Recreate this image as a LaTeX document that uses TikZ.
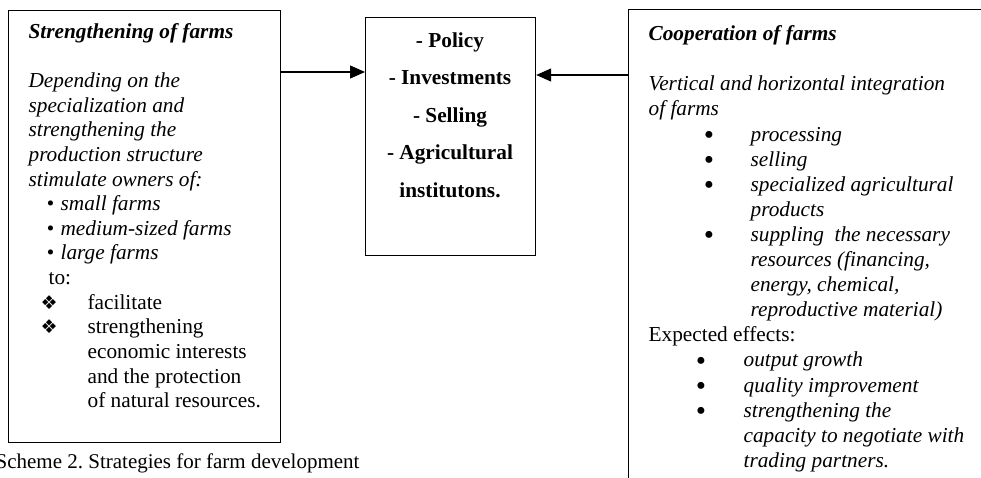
\documentclass[tikz,border=0pt]{standalone}
\usepackage{fontspec}
\setmainfont{Liberation Serif}
\newfontfamily\dingfont{DejaVu Sans}
\usetikzlibrary{positioning,arrows.meta}
\frenchspacing
\newcommand{\smalldot}{\makebox[14pt][l]{\textbullet}}
\newcommand{\bigdot}{\smash{\raisebox{-3.5pt}{\fontsize{29}{20}\selectfont\textbullet}}}
\newcommand{\diamondmark}{{\dingfont\fontsize{19}{20}\selectfont ❖}}

\begin{document}
\begin{tikzpicture}[x=1pt,y=-1pt,>={Triangle[length=15pt,width=13pt]},line width=1.2pt]
\tikzstyle{box}=[rectangle,draw,anchor=north west,inner sep=0pt]
\tikzstyle{txt}=[anchor=north west,align=left,inner sep=0pt]
\clip (0,0) rectangle (981,478);
\node[box,minimum width=272pt,minimum height=432pt] (strength) at (8,10) {};
\node[box,minimum width=170pt,minimum height=238pt] (policy) at (365,17) {};
\node[box,minimum width=420pt,minimum height=520pt] (coop) at (628,9) {};

\node[txt,font=\itshape\fontsize{21.3}{24.6}\selectfont] (strengthtext) at (28,23) {{\bfseries Strengthening of farms}\\[24.6pt]
Depending on the\\
specialization and\\
strengthening the\\
production structure\\
stimulate owners of:\\
\hspace*{18pt}\smalldot small farms\\
\hspace*{18pt}\smalldot medium-sized farms\\
\hspace*{18pt}\smalldot large farms\\
\hspace*{20pt}{\upshape to:}\\
\hspace*{12pt}\makebox[47pt][l]{\diamondmark}{\upshape facilitate}\\
\hspace*{12pt}\makebox[47pt][l]{\diamondmark}{\upshape strengthening}\\
\hspace*{59pt}{\upshape economic interests}\\
\hspace*{59pt}{\upshape and the protection}\\
\hspace*{59pt}{\upshape of natural resources.}};

\node[anchor=north,align=center,inner sep=0pt,font=\bfseries\fontsize{21.3}{37.5}\selectfont] (policytext) at (450,32) {- Policy\\- Investments\\- Selling\\- Agricultural\\institutons.};

\node[txt,font=\itshape\fontsize{21.3}{25.1}\selectfont] (cooptext) at (648,25) {{\bfseries Cooperation of farms}\\[25.1pt]
Vertical and horizontal integration\\
of farms\\
\hspace*{55pt}\makebox[47pt][l]{\bigdot}processing\\
\hspace*{55pt}\makebox[47pt][l]{\bigdot}selling\\
\hspace*{55pt}\makebox[47pt][l]{\bigdot}specialized agricultural\\
\hspace*{102pt}products\\
\hspace*{55pt}\makebox[47pt][l]{\bigdot}suppling\ \ the necessary\\
\hspace*{102pt}resources (financing,\\
\hspace*{102pt}energy, chemical,\\
\hspace*{102pt}reproductive material)\\
{\upshape Expected effects:}\\
\hspace*{47pt}\makebox[48pt][l]{\bigdot}output growth\\
\hspace*{47pt}\makebox[48pt][l]{\bigdot}quality improvement\\
\hspace*{47pt}\makebox[48pt][l]{\bigdot}strengthening the\\
\hspace*{95pt}capacity to negotiate with\\
\hspace*{95pt}trading partners.};

\node[anchor=base west,inner sep=0pt,font=\fontsize{21}{24}\selectfont] (caption) at (-5,468) {Scheme 2. Strategies for farm development};

\draw[->] ([yshift=-62pt]strength.north east) -- ([yshift=-62pt]strength.north east -| policy.west);
\draw[->] ([yshift=-66pt]coop.north west) -- ([yshift=-66pt]coop.north west -| policy.east);
\end{tikzpicture}
\end{document}
